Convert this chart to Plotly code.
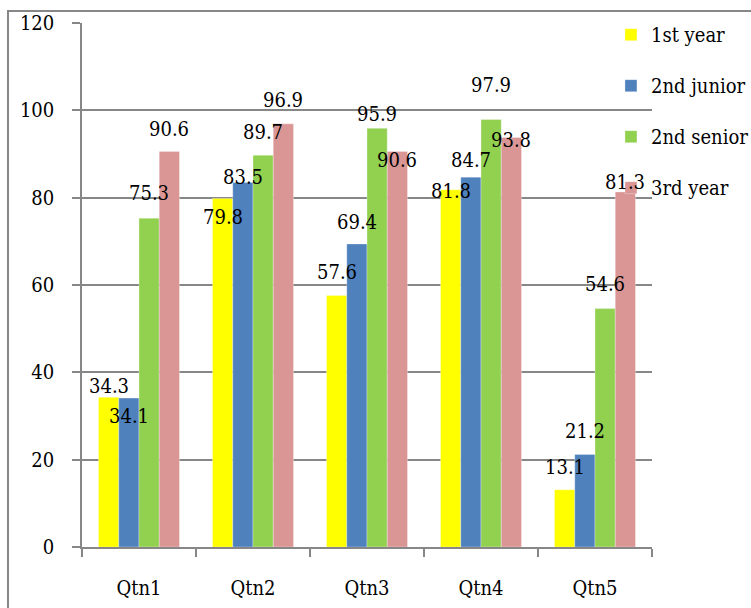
import plotly.graph_objects as go

categories = ["Qtn1", "Qtn2", "Qtn3", "Qtn4", "Qtn5"]
series_names = ["1st year", "2nd junior", "2nd senior", "3rd year"]
first_year = [34.3, 79.8, 57.6, 81.8, 13.1]
second_junior = [34.1, 83.5, 69.4, 84.7, 21.2]
second_senior = [75.3, 89.7, 95.9, 97.9, 54.6]
third_year = [90.6, 96.9, 90.6, 93.8, 81.3]
y_ticks = [0, 20, 40, 60, 80, 100, 120]

values = [first_year, second_junior, second_senior, third_year]
colors = ["#FFFF00", "#4F81BD", "#92D050", "#D99694"]

label_dy = [
    [11, -18, 23, -1, 23],
    [-18, 5, 22, 17, 23],
    [25, 23, 14, 35, 25],
    [22, 24, -9, -3, 10],
]

FONT = "DejaVu Serif Condensed, DejaVu Serif"
FS = 20
GRID = "#878787"

fig = go.Figure()
for i, (name, vals, col) in enumerate(zip(series_names, values, colors)):
    fig.add_trace(go.Bar(
        x=categories, y=vals, name=name,
        marker=dict(color=col, line=dict(color="rgba(255,255,255,0.6)", width=0.5)),
        legendgroup=name,
    ))

plot_w = 570
cat_w = plot_w / len(categories)
bargap = 0.29
bar_w = cat_w * (1 - bargap) / len(series_names)

annotations = []
for i, vals in enumerate(values):
    xs = (i - (len(series_names) - 1) / 2) * bar_w
    for j, v in enumerate(vals):
        annotations.append(dict(
            x=categories[j], y=v, xref="x", yref="y",
            text=f"{v}", showarrow=False,
            xshift=xs, yshift=label_dy[i][j],
            xanchor="center", yanchor="middle",
            font=dict(family=FONT, size=FS, color="black"),
        ))

fig.update_layout(
    width=751, height=608,
    margin=dict(l=82, r=99, t=23, b=61, autoexpand=False),
    paper_bgcolor="white", plot_bgcolor="white",
    barmode="group", bargap=bargap, bargroupgap=0,
    font=dict(family=FONT, size=FS, color="black"),
    annotations=annotations,
    legend=dict(
        x=0.928, y=1.015, xanchor="left", yanchor="top",
        bgcolor="rgba(0,0,0,0)", tracegroupgap=22,
        font=dict(family=FONT, size=FS, color="black"),
        itemwidth=30,
    ),
    showlegend=True,
    shapes=[dict(
        type="rect", xref="paper", yref="paper",
        x0=-0.1298, x1=1.25, y0=-0.2, y1=1.0229,
        line=dict(color=GRID, width=2), fillcolor="rgba(0,0,0,0)",
        layer="below",
    )],
)

fig.update_yaxes(
    range=[0, 120], tickvals=y_ticks, showgrid=True, gridcolor=GRID, gridwidth=1.5,
    showline=True, linecolor=GRID, linewidth=1.5,
    ticks="outside", ticklen=8, tickcolor=GRID, tickwidth=1.5,
    ticklabelstandoff=14, zeroline=False,
    tickfont=dict(family=FONT, size=FS, color="black"),
)
fig.update_xaxes(
    showline=True, linecolor=GRID, linewidth=1.5,
    ticks="outside", ticklen=8, tickcolor=GRID, tickwidth=1.5,
    tickson="boundaries", ticklabelstandoff=22,
    tickfont=dict(family=FONT, size=FS, color="black"),
)

fig.write_html("out.html")
